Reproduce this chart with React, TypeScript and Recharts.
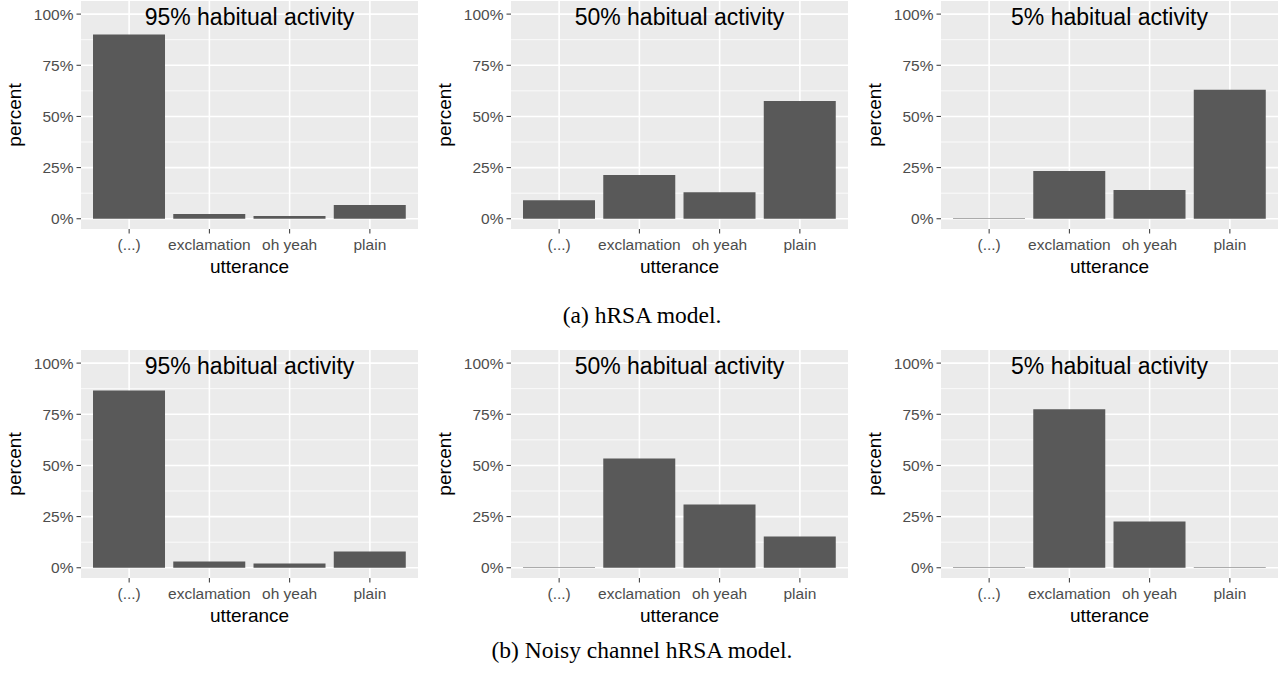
import React from 'react';
import { BarChart, Bar, XAxis, YAxis, CartesianGrid, ReferenceLine } from 'recharts';

// ---- data ----
const utterances = ['(...)', 'exclamation', 'oh yeah', 'plain'];
const activityTitles = ['95% habitual activity', '50% habitual activity', '5% habitual activity'];

const hrsa95 = [0.9, 0.023, 0.013, 0.067];
const hrsa50 = [0.091, 0.214, 0.13, 0.576];
const hrsa5 = [0.003, 0.233, 0.14, 0.63];

const noisy95 = [0.866, 0.031, 0.021, 0.08];
const noisy50 = [0.002, 0.534, 0.309, 0.153];
const noisy5 = [0.002, 0.774, 0.226, 0.002];

const yTicks = [0, 0.25, 0.5, 0.75, 1];
const yMinorTicks = [0.125, 0.375, 0.625, 0.875];
const captions = ['(a) hRSA model.', '(b) Noisy channel hRSA model.'];

const rows = [
  { top: 1, series: [hrsa95, hrsa50, hrsa5] },
  { top: 350, series: [noisy95, noisy50, noisy5] },
];
const colLefts = [0, 430, 860];

const PANEL_BG = '#EBEBEB';
const BAR = '#595959';
const TICK_TEXT = '#4D4D4D';
const TICK_LINE = '#333333';

function Panel({ values, title }: { values: number[]; title: string }) {
  const data = utterances.map((u, i) => ({ utterance: u, value: values[i] }));
  return (
    <BarChart
      width={430}
      height={290}
      data={data}
      margin={{ top: 0, right: 12, bottom: 0, left: 0 }}
      barCategoryGap="5%"
    >
      <CartesianGrid
        fill={PANEL_BG}
        stroke="#FFFFFF"
        strokeWidth={0.8}
        vertical={false}
        horizontalValues={yMinorTicks}
        syncWithTicks
      />
      <CartesianGrid fill="none" stroke="#FFFFFF" strokeWidth={1.6} syncWithTicks />
      <XAxis
        dataKey="utterance"
        type="category"
        height={62}
        padding={{ left: 8, right: 8 }}
        axisLine={false}
        tickLine={{ stroke: TICK_LINE, strokeWidth: 1 }}
        tickSize={4.5}
        tickMargin={5}
        interval={0}
        tick={{ fill: TICK_TEXT, fontSize: 15.5 }}
        label={{ value: 'utterance', position: 'insideBottom', offset: 18, fill: '#000000', fontSize: 19 }}
      />
      <YAxis
        type="number"
        domain={[-0.05, 1.064]}
        allowDataOverflow
        ticks={yTicks}
        tickFormatter={(v: number) => `${Math.round(v * 100)}%`}
        width={81}
        axisLine={false}
        tickLine={{ stroke: TICK_LINE, strokeWidth: 1 }}
        tickSize={4.5}
        tickMargin={3}
        tick={{ fill: TICK_TEXT, fontSize: 15.5 }}
        label={{
          value: 'percent',
          angle: -90,
          position: 'insideLeft',
          offset: 14,
          fill: '#000000',
          fontSize: 19,
          style: { textAnchor: 'middle' },
        }}
      />
      <Bar dataKey="value" fill={BAR} isAnimationActive={false} />
      <ReferenceLine
        y={1}
        stroke="none"
        label={{ value: title, position: 'center', fill: '#000000', fontSize: 23, dy: 2.5 }}
      />
    </BarChart>
  );
}

export default function App() {
  return (
    <div
      style={{
        position: 'absolute',
        left: 0,
        top: 0,
        width: 1283,
        height: 677,
        background: '#FFFFFF',
        fontFamily: '"Liberation Sans", Arial, sans-serif',
        overflow: 'hidden',
      }}
    >
      <svg width={1283} height={677} style={{ position: 'absolute', left: 0, top: 0 }}>
        <text x={642} y={323} textAnchor="middle" fontFamily='"Liberation Serif", "Times New Roman", serif' fontSize={23.5} fill="#000">
          {captions[0]}
        </text>
        <text x={642} y={658} textAnchor="middle" fontFamily='"Liberation Serif", "Times New Roman", serif' fontSize={23.5} fill="#000">
          {captions[1]}
        </text>
      </svg>
      {rows.map((row, r) =>
        row.series.map((vals, c) => (
          <div key={`${r}-${c}`} style={{ position: 'absolute', left: colLefts[c], top: row.top }}>
            <Panel values={vals} title={activityTitles[c]} />
          </div>
        ))
      )}
    </div>
  );
}
